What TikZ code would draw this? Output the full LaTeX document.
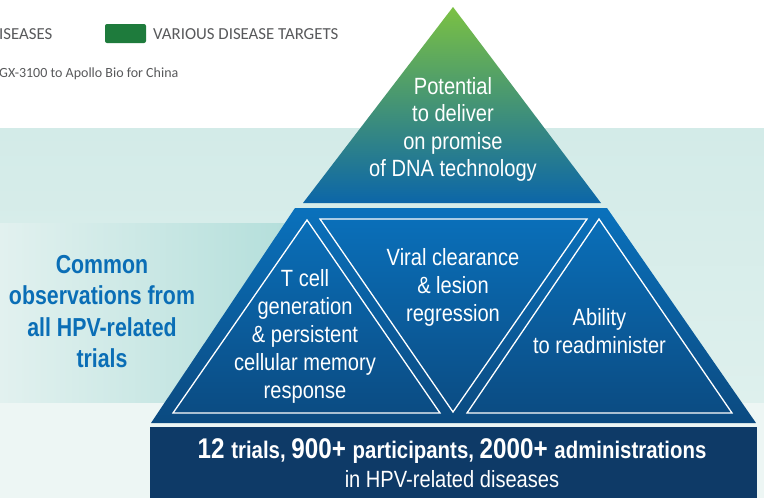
\documentclass[tikz,border=0pt]{standalone}
\usepackage{fontspec}
\setmainfont{Liberation Sans}
\newfontfamily\cond[FakeStretch=0.855]{Liberation Sans}
\newfontfamily\condbold[FakeStretch=0.85]{Liberation Sans}
\newfontfamily\condheavy[FakeStretch=0.82]{Liberation Sans}
\newfontfamily\legendfont{Carlito}

\definecolor{bandtop}{HTML}{D3EBE8}
\definecolor{bandbot}{HTML}{DEF0ED}
\definecolor{boxleft}{HTML}{E2F1EF}
\definecolor{boxright}{HTML}{B2DEDA}
\definecolor{floorc}{HTML}{EDF6F4}
\definecolor{apexgreen}{HTML}{7BC143}
\definecolor{apexmid}{HTML}{3F9C6E}
\definecolor{apexblue}{HTML}{0C66A8}
\definecolor{midtop}{HTML}{0A71BC}
\definecolor{midbot}{HTML}{0B4A80}
\definecolor{basenavy}{HTML}{0E3A67}
\definecolor{headgray}{HTML}{58595B}
\definecolor{legendgreen}{HTML}{1E7B3C}
\definecolor{obsblue}{HTML}{0A6EB6}

% multi-line nodes are anchored at the baseline of their last line
\tikzset{
  tierline/.style={draw=white, line width=1.3pt, line join=miter},
  pyrtext/.style={text=white, inner sep=0pt, align=center, anchor=base,
    font=\cond\fontsize{23.5}{28}\selectfont},
  headtext/.style={text=headgray, inner sep=0pt, anchor=base west},
}

\begin{document}
\begin{tikzpicture}[x=1pt,y=-1pt]
\useasboundingbox (0,0) rectangle (764,498);

% page background bands
\fill[white] (0,0) rectangle (764,128);
\shade[top color=bandtop, bottom color=bandbot] (0,128) rectangle (764,403);
\shade[left color=boxleft, right color=boxright] (0,223) rectangle (300,403);
\fill[floorc] (0,403) rectangle (764,498);

% header legend
\node[headtext, font=\legendfont\fontsize{16.8}{20}\selectfont] (leg1) at (-1,39) {ISEASES};
\fill[legendgreen, rounded corners=2pt] (105,24) rectangle (146,43);
\node[headtext, font=\legendfont\fontsize{16.8}{20}\selectfont] (leg2) at (153,39) {VARIOUS DISEASE TARGETS};
\node[headtext, font=\legendfont\fontsize{14}{16}\selectfont] (note) at (-1,77) {GX-3100 to Apollo Bio for China};

% pyramid: apex tier
\shade[top color=apexgreen, middle color=apexmid, bottom color=apexblue]
  (453,7) -- (601,203) -- (303,203) -- cycle;

% pyramid: middle tier
\shade[top color=midtop, bottom color=midbot]
  (295,208) -- (607,208) -- (756,423) -- (151,423) -- cycle;
\draw[tierline] (307,220) -- (440,413) -- (173,413) -- cycle;
\draw[tierline] (320,219) -- (587,219) -- (453,412) -- cycle;
\draw[tierline] (599,219) -- (732,413) -- (467,413) -- cycle;

% pyramid: base tier
\fill[basenavy] (150,427) rectangle (757,498);

% texts
\node[pyrtext, font=\cond\fontsize{23.5}{27.5}\selectfont] (apex) at (453,176.5)
  {Potential\\to deliver\\on promise\\of DNA technology};
\node[text=obsblue, inner sep=0pt, align=center, anchor=base,
  font=\condheavy\bfseries\fontsize{26}{31.5}\selectfont] (obs) at (102,367.5)
  {Common\\observations from\\all HPV-related\\trials};
\node[pyrtext] (tcell) at (305,398.5)
  {T cell\\generation\\\& persistent\\cellular memory\\response};
\node[pyrtext] (viral) at (453,321)
  {Viral clearance\\\& lesion\\regression};
\node[pyrtext, font=\cond\fontsize{23.5}{27.5}\selectfont] (ability) at (599.5,353.2)
  {Ability\\to readminister};
\node[text=white, inner sep=0pt, anchor=base, font=\condbold\bfseries] (stats) at (452,458)
  {\fontsize{28.5}{30}\selectfont 12 \fontsize{24}{30}\selectfont trials,
   \fontsize{28.5}{30}\selectfont 900+ \fontsize{24}{30}\selectfont participants,
   \fontsize{28.5}{30}\selectfont 2000+ \fontsize{24}{30}\selectfont administrations};
\node[text=white, inner sep=0pt, anchor=base, font=\cond\fontsize{23.5}{28}\selectfont] (hpv) at (452,487)
  {in HPV-related diseases};
\end{tikzpicture}
\end{document}
